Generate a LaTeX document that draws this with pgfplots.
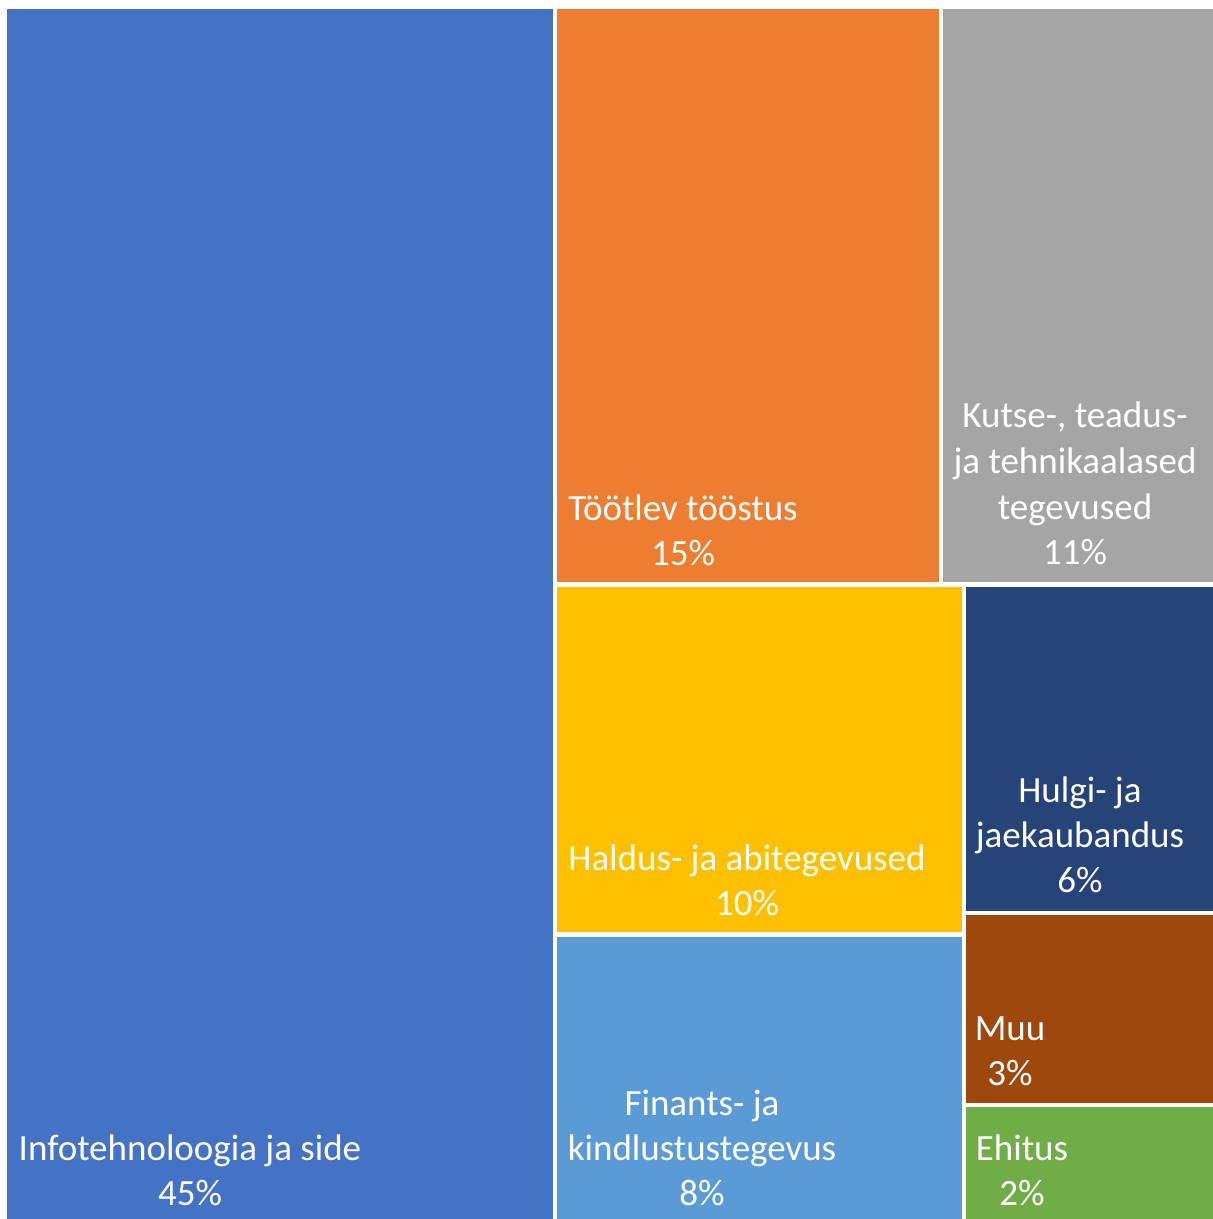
\documentclass[border=0pt]{standalone}
\usepackage{pgfplots}
\pgfplotsset{compat=1.18}
\usepackage{fontspec}
\setmainfont{Carlito}
\definecolor{cA}{HTML}{4472C4}
\definecolor{cB}{HTML}{ED7D31}
\definecolor{cC}{HTML}{A5A5A5}
\definecolor{cD}{HTML}{FFC000}
\definecolor{cE}{HTML}{5B9BD5}
\definecolor{cF}{HTML}{264478}
\definecolor{cG}{HTML}{9E480E}
\definecolor{cH}{HTML}{70AD47}
\tikzset{lbl/.style={anchor=base, text=white, inner sep=0pt, font=\fontsize{18.5pt}{22pt}\selectfont}}
\begin{document}
\begin{tikzpicture}
\begin{axis}[
  width=606.5pt, height=609.5pt, scale only axis,
  hide axis, xmin=0, xmax=1213, ymin=0, ymax=1219, y dir=reverse,
  clip=true,
  every axis plot/.append style={draw=none, mark=none},
]
\addplot[fill=white] coordinates {(0,0) (1213,0) (1213,1219) (0,1219)} -- cycle;
% Infotehnoloogia ja side 45%
\addplot[fill=cA] coordinates {(7,9) (553,9) (553,1219) (7,1219)} -- cycle;
% Töötlev tööstus 15%
\addplot[fill=cB] coordinates {(557,9) (939,9) (939,582) (557,582)} -- cycle;
% Kutse-, teadus- ja tehnikaalased tegevused 11%
\addplot[fill=cC] coordinates {(943,9) (1213,9) (1213,582) (943,582)} -- cycle;
% Haldus- ja abitegevused 10%
\addplot[fill=cD] coordinates {(557,587) (962,587) (962,932) (557,932)} -- cycle;
% Finants- ja kindlustustegevus 8%
\addplot[fill=cE] coordinates {(557,937) (962,937) (962,1219) (557,1219)} -- cycle;
% Hulgi- ja jaekaubandus 6%
\addplot[fill=cF] coordinates {(966,587) (1213,587) (1213,911) (966,911)} -- cycle;
% Muu 3%
\addplot[fill=cG] coordinates {(966,915) (1213,915) (1213,1103) (966,1103)} -- cycle;
% Ehitus 2%
\addplot[fill=cH] coordinates {(966,1107) (1213,1107) (1213,1219) (966,1219)} -- cycle;

\node[lbl] at (axis cs:190,1160) {Infotehnoloogia ja side};
\node[lbl] at (axis cs:190,1205) {45\%};
\node[lbl] at (axis cs:683,520) {Töötlev tööstus};
\node[lbl] at (axis cs:683,565) {15\%};
\node[lbl] at (axis cs:1075,427) {Kutse-, teadus-};
\node[lbl] at (axis cs:1075,473) {ja tehnikaalased};
\node[lbl] at (axis cs:1075,519) {tegevused};
\node[lbl] at (axis cs:1075,564) {11\%};
\node[lbl] at (axis cs:747,870) {Haldus- ja abitegevused};
\node[lbl] at (axis cs:747,915) {10\%};
\node[lbl] at (axis cs:702,1115) {Finants- ja};
\node[lbl] at (axis cs:702,1160) {kindlustustegevus};
\node[lbl] at (axis cs:702,1205) {8\%};
\node[lbl] at (axis cs:1080,802) {Hulgi- ja};
\node[lbl] at (axis cs:1080,847) {jaekaubandus};
\node[lbl] at (axis cs:1080,892) {6\%};
\node[lbl] at (axis cs:1010,1040) {Muu};
\node[lbl] at (axis cs:1010,1085) {3\%};
\node[lbl] at (axis cs:1022,1160) {Ehitus};
\node[lbl] at (axis cs:1022,1205) {2\%};
\end{axis}
\end{tikzpicture}
\end{document}
